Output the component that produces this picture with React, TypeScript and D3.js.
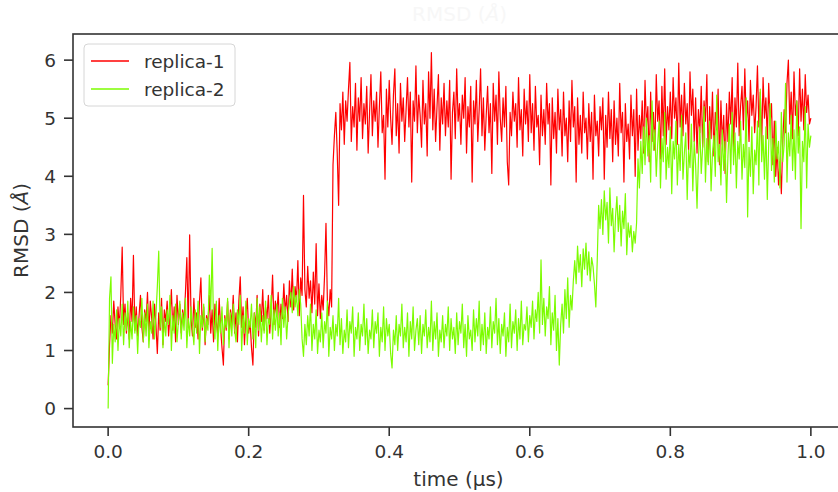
import React from "react";
import * as d3 from "d3";

const W = 838;
const H = 492;

// time step between samples (µs)
const timeStep = 0.002;

const replica1: number[] = [
  0.40,
  1.10, 1.60, 1.30, 1.85, 1.45, 1.20, 1.75, 1.40, 1.95, 2.78,
  1.45, 1.80, 1.30, 1.65, 1.20, 1.90, 1.50, 2.64, 1.35, 1.75,
  1.25, 1.60, 1.95, 1.40, 1.15, 1.70, 1.50, 2.00, 1.30, 1.85,
  1.55, 1.20, 1.80, 1.45, 0.95, 1.65, 1.35, 1.90, 1.10, 1.70,
  1.50, 1.85, 1.25, 1.60, 2.05, 1.35, 1.75, 1.15, 1.95, 1.45,
  1.80, 1.30, 1.70, 1.50, 2.00, 2.60, 1.40, 2.99, 1.55, 1.25,
  1.90, 1.40, 1.65, 1.20, 1.85, 2.25, 1.35, 1.75, 1.10, 1.60,
  1.45, 1.95, 1.30, 1.70, 1.15, 1.80, 1.50, 1.25, 1.90, 1.40,
  1.05, 0.75, 1.60, 1.35, 1.85, 1.20, 1.70, 1.45, 1.95, 1.30,
  1.65, 1.15, 1.85, 2.27, 1.40, 1.75, 1.10, 1.60, 1.90, 1.30,
  1.50, 1.05, 0.75, 1.65, 1.40, 1.95, 1.25, 1.80, 1.50, 2.05,
  1.35, 1.75, 1.55, 1.95, 1.30, 1.70, 2.30, 1.45, 1.85, 1.60,
  2.00, 1.40, 1.80, 1.55, 2.15, 1.65, 1.95, 1.50, 2.20, 1.75,
  2.40, 1.70, 2.10, 1.85, 2.55, 1.60, 2.25, 1.95, 3.67, 2.05,
  1.75, 2.45, 1.90, 2.20, 1.65, 2.35, 1.80, 2.84, 1.60, 2.15,
  1.55, 1.95, 1.70, 2.30, 3.19, 1.85, 1.60, 2.05, 1.75, 4.20,
  4.70, 5.10, 4.40, 3.50, 5.25, 4.80, 5.45, 4.55, 5.30, 4.95,
  5.50, 5.96, 4.60, 5.20, 4.85, 5.60, 4.45, 5.35, 4.95, 5.70,
  4.65, 5.25, 4.90, 5.55, 4.40, 5.10, 5.75, 4.70, 5.30, 4.95,
  5.45, 4.50, 5.20, 5.80, 4.75, 5.05, 3.95, 5.50, 4.85, 5.65,
  5.00, 4.55, 5.40, 5.85, 4.70, 5.25, 4.40, 5.60, 4.95, 5.35,
  4.60, 5.15, 5.70, 4.85, 5.45, 3.90, 5.30, 4.95, 5.90, 4.75,
  5.40, 5.05, 4.50, 5.65, 4.90, 5.25, 4.35, 5.80, 5.00, 6.13,
  4.80, 5.50, 4.60, 5.20, 5.75, 4.45, 5.35, 4.90, 5.60, 4.70,
  5.30, 4.85, 5.65, 3.95, 5.10, 5.45, 4.65, 5.85, 4.95, 5.25,
  4.55, 5.40, 5.00, 5.70, 4.40, 5.20, 4.85, 5.55, 3.90, 5.30,
  4.90, 5.65, 4.60, 5.15, 5.85, 4.70, 5.35, 4.45, 5.05, 5.55,
  4.75, 5.25, 4.05, 5.60, 4.95, 5.40, 4.55, 5.80, 5.00, 4.60,
  5.35, 4.85, 5.55, 4.25, 3.85, 5.10, 4.70, 5.45, 4.95, 5.25,
  4.50, 5.70, 4.80, 5.15, 4.35, 5.50, 4.90, 5.30, 4.60, 5.75,
  4.75, 5.25, 4.45, 5.55, 4.85, 5.05, 4.20, 5.40, 4.70, 5.15,
  4.55, 5.60, 4.90, 5.25, 3.85, 5.35, 4.65, 5.10, 4.40, 5.50,
  4.80, 5.15, 4.35, 5.45, 4.70, 5.00, 4.25, 5.30, 4.60, 5.65,
  4.85, 5.20, 3.90, 5.35, 4.55, 5.05, 4.40, 5.45, 4.75, 5.00,
  4.30, 5.25, 4.60, 5.10, 3.95, 5.40, 4.70, 4.95, 4.35, 5.20,
  4.80, 5.35, 3.95, 5.05, 4.50, 5.45, 4.65, 5.15, 4.25, 5.30,
  4.55, 5.00, 4.35, 5.60, 4.75, 5.10, 3.90, 5.25, 4.60, 4.90,
  4.30, 5.40, 4.70, 5.15, 4.00, 5.50, 4.45, 5.05, 4.65, 5.30,
  4.40, 5.65, 4.85, 5.20, 4.25, 5.45, 4.60, 5.10, 4.45, 5.75,
  4.95, 5.30, 4.30, 5.55, 4.70, 5.85, 4.55, 5.20, 4.80, 5.45,
  4.65, 5.70, 5.00, 5.35, 4.55, 5.95, 4.85, 5.40, 4.70, 5.60,
  4.90, 5.25, 4.45, 5.80, 5.05, 5.50, 4.60, 5.35, 4.40, 5.15,
  4.75, 5.55, 4.50, 5.30, 4.95, 5.75, 4.25, 5.20, 4.65, 5.45,
  4.35, 5.10, 4.80, 5.50, 4.20, 5.30, 4.55, 5.05, 4.05, 5.25,
  4.60, 5.45, 4.90, 5.70, 4.45, 5.35, 4.85, 5.95, 4.70, 5.20,
  5.55, 4.80, 5.85, 4.95, 5.30, 4.60, 5.65, 5.05, 5.40, 4.75,
  5.20, 5.90, 4.85, 5.45, 4.55, 5.70, 5.00, 5.35, 4.65, 5.60,
  4.90, 5.25, 4.20, 4.95, 4.00, 4.50, 3.85, 4.25, 3.70, 4.60,
  5.15, 4.75, 5.60, 6.00, 4.90, 5.45, 4.65, 5.80, 5.05, 5.30,
  4.70, 5.85, 4.95, 5.50, 4.80, 5.75, 5.10, 5.40, 4.90, 5.00,
];

const replica2: number[] = [
  0.00,
  1.90, 2.27, 0.78, 1.45, 1.15, 1.70, 1.00, 1.55, 1.25, 1.80,
  1.10, 1.65, 1.35, 1.85, 1.05, 1.50, 1.20, 1.75, 1.30, 1.60,
  0.95, 1.55, 1.40, 1.90, 1.15, 1.65, 1.25, 1.80, 1.05, 1.50,
  1.30, 1.85, 1.20, 1.60, 2.10, 2.71, 1.40, 1.75, 1.05, 1.55,
  1.25, 1.70, 1.45, 1.95, 1.00, 1.60, 1.30, 1.80, 1.15, 1.50,
  1.85, 1.20, 1.65, 1.35, 1.90, 1.05, 1.55, 1.25, 1.75, 1.40,
  1.10, 1.70, 1.30, 1.85, 0.95, 1.60, 1.40, 1.80, 1.15, 1.55,
  1.35, 2.30, 1.70, 2.76, 1.45, 1.20, 1.85, 1.00, 1.60, 1.30,
  1.75, 1.10, 1.55, 1.40, 1.90, 1.05, 1.65, 1.25, 1.80, 1.35,
  1.15, 1.70, 1.45, 1.95, 1.00, 1.60, 1.30, 1.85, 1.10, 1.55,
  1.40, 1.80, 1.20, 1.65, 1.05, 1.90, 1.35, 1.75, 1.15, 1.60,
  1.30, 1.85, 1.10, 1.55, 1.45, 1.95, 1.20, 1.70, 1.35, 1.80,
  1.25, 1.65, 1.10, 1.90, 1.40, 1.75, 1.20, 1.60, 1.85, 2.00,
  1.65, 2.10, 1.75, 1.95, 1.60, 2.05, 1.80, 1.20, 0.90, 1.45,
  1.10, 1.60, 1.25, 1.80, 1.00, 1.45, 1.20, 1.70, 0.95, 1.35,
  1.15, 1.65, 1.05, 1.50, 1.30, 1.85, 0.90, 1.40, 1.20, 1.60,
  1.00, 1.45, 1.25, 1.90, 1.10, 1.55, 0.95, 1.35, 1.15, 1.70,
  1.05, 1.50, 1.30, 1.75, 0.90, 1.40, 1.20, 1.65, 1.00, 1.45,
  1.25, 1.80, 1.10, 1.55, 0.95, 1.35, 1.20, 1.70, 1.05, 1.50,
  1.30, 1.65, 0.90, 1.40, 1.15, 1.75, 1.00, 1.55, 1.25, 1.45,
  0.95, 0.70, 1.35, 1.10, 1.60, 1.00, 1.45, 1.25, 1.80, 1.05,
  1.40, 1.15, 1.65, 0.90, 1.50, 1.20, 1.75, 1.00, 1.35, 1.55,
  1.10, 1.60, 0.95, 1.45, 1.25, 1.70, 1.05, 1.40, 1.15, 1.85,
  1.00, 1.50, 1.20, 1.65, 0.90, 1.35, 1.15, 1.60, 1.05, 1.45,
  1.25, 1.75, 1.00, 1.55, 1.20, 1.40, 0.95, 1.65, 1.10, 1.50,
  1.30, 1.80, 1.05, 1.45, 0.90, 1.60, 1.20, 1.35, 1.00, 1.70,
  1.15, 1.55, 1.25, 1.85, 1.00, 1.45, 1.10, 1.65, 0.95, 1.40,
  1.20, 1.75, 1.05, 1.50, 1.30, 1.90, 1.10, 1.55, 0.95, 1.45,
  1.25, 1.65, 0.90, 1.40, 1.15, 1.80, 1.05, 1.50, 1.30, 1.70,
  1.00, 1.55, 1.20, 1.85, 1.10, 1.45, 1.35, 1.75, 1.15, 1.60,
  1.40, 1.85, 1.20, 1.70, 1.50, 2.00, 1.30, 2.56, 1.45, 1.90,
  1.25, 1.75, 1.55, 2.10, 1.10, 1.65, 1.35, 1.95, 1.00, 1.55,
  0.75, 1.45, 1.80, 1.30, 2.05, 1.55, 2.25, 1.40, 1.95, 1.70,
  2.20, 2.55, 2.15, 2.80, 2.35, 2.65, 2.10, 2.75, 2.40, 2.85,
  2.30, 2.70, 2.20, 2.60, 2.45, 2.15, 1.75, 2.55, 3.50, 3.10,
  3.60, 3.00, 3.75, 3.25, 3.55, 2.85, 3.80, 3.15, 3.45, 2.70,
  3.30, 3.65, 3.05, 3.50, 2.80, 3.40, 3.10, 3.70, 2.65, 3.20,
  2.95, 3.15, 2.70, 3.05, 2.85, 3.20, 4.30, 3.80, 4.60, 4.05,
  4.85, 4.20, 5.00, 4.35, 4.70, 3.90, 5.30, 4.45, 4.80, 4.00,
  4.55, 4.95, 3.80, 4.65, 4.25, 5.10, 3.95, 4.50, 4.15, 4.85,
  3.70, 4.60, 4.30, 4.95, 3.85, 4.55, 4.10, 5.05, 3.95, 4.40,
  4.75, 3.60, 4.45, 4.15, 4.90, 3.75, 4.60, 4.20, 3.45, 4.30,
  4.85, 4.05, 4.50, 5.20, 3.90, 4.65, 4.20, 4.95, 3.75, 4.40,
  4.70, 4.00, 5.40, 4.25, 4.55, 3.85, 4.80, 4.10, 4.60, 3.55,
  4.35, 4.90, 4.05, 5.10, 4.20, 4.75, 3.80, 4.60, 4.30, 4.95,
  3.95, 4.55, 4.15, 5.35, 3.30, 4.50, 4.00, 4.85, 3.70, 4.45,
  4.20, 4.95, 3.85, 5.50, 4.25, 4.70, 3.95, 4.85, 3.60, 4.55,
  5.25, 4.10, 4.65, 3.90, 4.95, 4.30, 4.60, 3.80, 5.10, 4.25,
  4.55, 5.60, 3.90, 4.75, 4.35, 5.05, 4.10, 4.80, 3.95, 5.30,
  4.40, 4.85, 3.10, 4.60, 4.25, 5.20, 3.80, 4.90, 4.50, 4.70,
];

const seriesNames = ["replica-1", "replica-2"];
const seriesColors = ["#ff0000", "#7cfc00"];
const xTicks = [0.0, 0.2, 0.4, 0.6, 0.8, 1.0];
const yTicks = [0, 1, 2, 3, 4, 5, 6];

const FONT = "'DejaVu Sans', sans-serif";
const TXT = "#333333";

export default function App() {
  const left = 73, right = 846, top = 34, bottom = 427;
  const x = d3.scaleLinear().domain([-0.05, 1.05]).range([left, right]);
  const y = d3.scaleLinear().domain([-0.317, 6.45]).range([bottom, top]);

  const line = d3
    .line<number>()
    .x((_, i) => x(i * timeStep))
    .y((d) => y(d));

  const data = [replica1, replica2];

  return (
    <svg
      width={W}
      height={H}
      style={{ position: "fixed", left: 0, top: 0, background: "#fff" }}
      fontFamily={FONT}
    >
      <rect x={0} y={0} width={W} height={H} fill="#fff" />
      <text x={(left + right) / 2} y={21} textAnchor="middle" fontSize={20} fill="#f7f7f7">
        RMSD (<tspan fontStyle="italic">Å</tspan>)
      </text>
      <g>
        {data.map((s, k) => (
          <path
            key={k}
            d={line(s) || ""}
            fill="none"
            stroke={seriesColors[k]}
            strokeWidth={1.2}
            strokeLinejoin="round"
          />
        ))}
      </g>
      {/* frame */}
      <rect
        x={left}
        y={top}
        width={right - left}
        height={bottom - top}
        fill="none"
        stroke="#333"
        strokeWidth={1.6}
      />
      {/* y axis */}
      {yTicks.map((t) => (
        <g key={"y" + t}>
          <line x1={left - 9} x2={left} y1={y(t)} y2={y(t)} stroke="#333" strokeWidth={1.6} />
          <text x={left - 17} y={y(t)} dy="0.36em" textAnchor="end" fontSize={18.5} fill={TXT}>
            {t}
          </text>
        </g>
      ))}
      {/* x axis */}
      {xTicks.map((t) => (
        <g key={"x" + t}>
          <line x1={x(t)} x2={x(t)} y1={bottom} y2={bottom + 9} stroke="#333" strokeWidth={1.6} />
          <text x={x(t)} y={bottom + 31} textAnchor="middle" fontSize={18.5} fill={TXT}>
            {t.toFixed(1)}
          </text>
        </g>
      ))}
      <text x={(left + right) / 2 - 1} y={486} textAnchor="middle" fontSize={20} fill={TXT}>
        time (µs)
      </text>
      <text
        transform={`translate(28,${(top + bottom) / 2}) rotate(-90)`}
        textAnchor="middle"
        fontSize={20}
        fill={TXT}
      >
        RMSD (<tspan fontStyle="italic">Å</tspan>)
      </text>
      {/* legend */}
      <rect
        x={84}
        y={44}
        width={151}
        height={62}
        rx={4}
        fill="#fff"
        fillOpacity={0.8}
        stroke="#d6d6d6"
        strokeWidth={1}
      />
      {seriesNames.map((n, k) => (
        <g key={n}>
          <line
            x1={91}
            x2={129}
            y1={61 + k * 28}
            y2={61 + k * 28}
            stroke={seriesColors[k]}
            strokeWidth={1.3}
          />
          <text x={144} y={61 + k * 28} dy="0.36em" fontSize={18.5} fill={TXT}>
            {n}
          </text>
        </g>
      ))}
    </svg>
  );
}
